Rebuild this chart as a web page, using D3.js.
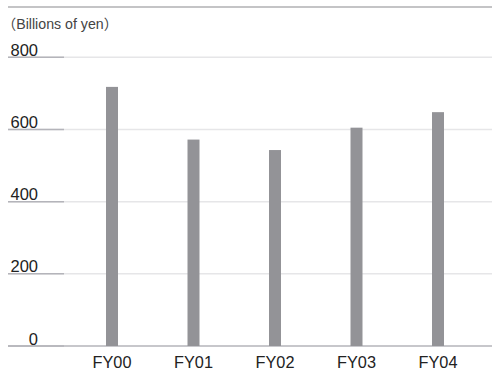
<!DOCTYPE html>
<html>
<head>
<meta charset="utf-8">
<script src="https://cdn.jsdelivr.net/npm/d3@7/dist/d3.min.js"></script>
<style>
  html, body { margin: 0; padding: 0; background: #fff; }
  svg { display: block; }
  text { font-family: "Liberation Sans", Arial, sans-serif; }
</style>
</head>
<body>
<script>
// Annual figures, billions of yen
const categories = ["FY00", "FY01", "FY02", "FY03", "FY04"];
const values = [718, 572, 543, 605, 648];
const yTicks = [0, 200, 400, 600, 800];
const unitLabel = "（Billions of yen）";

const W = 492, H = 371;
const svg = d3.select("body").append("svg").attr("width", W).attr("height", H);

const y = d3.scaleLinear().domain([0, 800]).range([346, 57.3]);
const x = d3.scalePoint().domain(categories).range([71.25, 478.75]).padding(0.5);
const barW = 12;

// top rule
svg.append("line").attr("x1", 8).attr("x2", W).attr("y1", 7).attr("y2", 7)
  .attr("stroke", "#c4c4c6").attr("stroke-width", 2);

// unit caption
svg.append("text").attr("x", 2).attr("y", 29).attr("font-size", 14.2).attr("fill", "#444")
  .style("font-family", "'Liberation Sans', 'Noto Sans CJK JP', sans-serif")
  .text(unitLabel);

// gridlines
const grid = svg.append("g");
grid.selectAll("line.g").data(yTicks.filter(d => d > 0)).join("line")
  .attr("class", "g")
  .attr("x1", 8).attr("x2", W)
  .attr("y1", d => y(d)).attr("y2", d => y(d))
  .attr("stroke", "#e6e6e8").attr("stroke-width", 1.5);
// short darker tick segment under each label
grid.selectAll("line.t").data(yTicks).join("line")
  .attr("class", "t")
  .attr("x1", 8).attr("x2", 64)
  .attr("y1", d => y(d)).attr("y2", d => y(d))
  .attr("stroke", "#b4b4ba").attr("stroke-width", 1.5);

// baseline
svg.append("line").attr("x1", 8).attr("x2", W).attr("y1", y(0)).attr("y2", y(0))
  .attr("stroke", "#b4b4ba").attr("stroke-width", 1.5);

// y labels
svg.append("g").selectAll("text").data(yTicks).join("text")
  .attr("x", 38).attr("y", d => y(d) - 1.5)
  .attr("text-anchor", "end").attr("font-size", 16.5).attr("fill", "#222")
  .text(d => d);

// bars
svg.append("g").selectAll("rect").data(values).join("rect")
  .attr("x", (d, i) => x(categories[i]) - barW / 2)
  .attr("width", barW)
  .attr("y", d => y(d))
  .attr("height", d => y(0) - y(d))
  .attr("fill", "#939397");

// x labels
svg.append("g").selectAll("text").data(categories).join("text")
  .attr("x", d => x(d)).attr("y", 368)
  .attr("text-anchor", "middle").attr("font-size", 16.3).attr("fill", "#222")
  .text(d => d);
</script>
</body>
</html>
